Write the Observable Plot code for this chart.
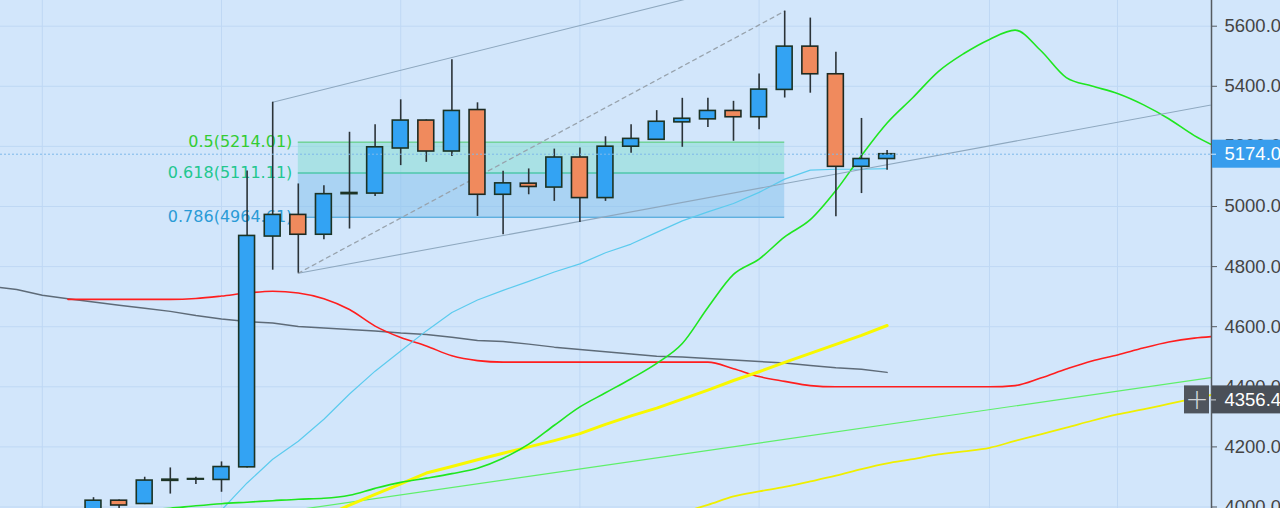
<!DOCTYPE html>
<html><head><meta charset="utf-8">
<script src="https://cdn.jsdelivr.net/npm/d3@7"></script>
<script src="https://cdn.jsdelivr.net/npm/@observablehq/plot@0.6"></script>
<style>html,body{margin:0;padding:0;background:#d2e6fb;overflow:hidden}#chart svg{display:block}</style>
</head><body><div id="chart"></div>
<script>
// ---- candles (weekly), index 0..31
const candleOpen  = [3985,4021,4010,4087,4091,4090,4132,4900,4972,4906,5041,5043,5193,5286,5183,5321,5039,5076,5063,5163,5028,5199,5222,5280,5290,5318,5297,5388,5532,5440,5132,5158];
const candleHigh  = [4031,4023,4099,4130,4099,4150,5118,5347,5075,5069,5247,5272,5355,5288,5488,5345,5117,5125,5191,5195,5232,5272,5319,5360,5360,5350,5441,5650,5627,5513,5293,5186];
const candleLow   = [3975,3985,4008,4043,4075,4049,4130,4788,4778,4889,4925,5033,5136,5147,5166,4967,4906,5039,5017,4947,5017,5177,5222,5197,5263,5217,5255,5361,5377,4966,5043,5121];
const candleClose = [4021,4005,4088,4091,4093,4133,4902,4972,4906,5041,5045,5197,5286,5183,5318,5039,5077,5065,5163,5028,5199,5225,5282,5292,5318,5297,5389,5532,5440,5132,5158,5174];

// ---- indicator lines: first index + values
const greyStart = -4;
const greyVals = [4734,4724,4705,4693,4682,4671,4661,4651,4637,4626,4617,4612,4601,4596,4591,4586,4579,4574,4565,4554,4551,4542,4532,4524,4517,4509,4502,4499,4494,4489,4484,4479,4471,4463,4458,4448];
const redStart = -1;
const redVals = [4691,4691,4691,4691,4691,4694,4702,4712,4718,4712,4693,4657,4602,4564,4536,4503,4487,4482,4482,4482,4482,4482,4482,4482,4482,4482,4460,4434,4418,4404,4400,4400,4400,4400,4400,4400,4400,4404,4429,4459,4486,4506,4529,4549,4562,4569];
const cyanStart = 5;
const cyanVals = [3990,4080,4159,4219,4292,4376,4452,4519,4586,4647,4689,4721,4751,4782,4809,4846,4875,4914,4952,4982,5010,5047,5091,5121,5124,5124,5126];
const greenStart = 2;
const greenVals = [3990,3996,4004,4011,4016,4021,4026,4029,4039,4062,4082,4096,4111,4129,4162,4209,4272,4333,4380,4427,4478,4544,4664,4774,4825,4899,4956,5053,5170,5278,5362,5449,5509,5556,5587,5519,5429,5401,5376,5339,5292,5236,5193];
const yellowStart = 9;
const yellowVals = [3969,4006,4042,4077,4113,4135,4157,4179,4200,4221,4244,4275,4303,4329,4359,4389,4421,4450,4481,4511,4541,4571,4604];
const yellow2Start = 23;
const yellow2Vals = [3982,4007,4035,4052,4067,4085,4104,4126,4145,4159,4175,4185,4197,4220,4242,4264,4287,4308,4325,4343,4361,4379];
const lightGreenPts = [[8,3991],[44,4435]];

// ---- drawings
const upperChannel = [[7,5347],[23.7,5702]];
const lowerChannel = [[8,4778],[44,5343]];
const fibTrend = [[8,4778],[27,5650]];
const fibRatios = ["0.5","0.618","0.786"];
const fibLevels = [5214.01,5111.11,4964.61];
const fibRange = [8,27];

// ---- axis
const yTicks = [4000,4200,4400,4600,4800,5000,5200,5400,5600];
const gridIdx = [-2,5,12,19,26,35,40];
const lastPrice = 5174.0;
const crossPrice = 4356.4;

const candles = candleOpen.map((o,i)=>({i,o,h:candleHigh[i],l:candleLow[i],c:candleClose[i]}));
const up = candles.filter(d=>d.c>=d.o), down = candles.filter(d=>d.c<d.o);
const series = (s,vals)=>vals.map((v,k)=>({i:s+k,v}));

const X0 = -3.633, X1 = 43.672;
const pxX = 25.6, pxY = 0.3005; // pixel per unit, used only for label box sizes
const half = 14/pxY;
const axisFont = 18.5, axisFamily = "Liberation Sans";

const lineOpts = (stroke, w)=>({x:"i", y:"v", stroke, strokeWidth:w, curve:"monotone-x", clip:true});

const chart = Plot.plot({
  width:1280, height:508,
  marginLeft:0, marginRight:69, marginTop:0, marginBottom:0,
  style:{background:"#d2e6fb", fontFamily:"DejaVu Sans", fontSize:"16px"},
  x:{domain:[X0,X1], axis:null},
  y:{domain:[3995,5685.5], axis:null},
  marks:[
    Plot.ruleY(yTicks, {stroke:"#bfd8f4", strokeWidth:1}),
    Plot.ruleX(gridIdx, {stroke:"#bfd8f4", strokeWidth:1}),
    // fib zones
    Plot.rect([0], {x1:fibRange[0], x2:fibRange[1], y1:fibLevels[1], y2:fibLevels[0], fill:"#86ddd3", fillOpacity:0.55}),
    Plot.rect([0], {x1:fibRange[0], x2:fibRange[1], y1:fibLevels[2], y2:fibLevels[1], fill:"#88c2ec", fillOpacity:0.55}),
    Plot.ruleY([fibLevels[0]], {x1:fibRange[0], x2:fibRange[1], stroke:"#74d39a", strokeWidth:1.5}),
    Plot.ruleY([fibLevels[1]], {x1:fibRange[0], x2:fibRange[1], stroke:"#4cc8a8", strokeWidth:1.5}),
    Plot.ruleY([fibLevels[2]], {x1:fibRange[0], x2:fibRange[1], stroke:"#5fb0df", strokeWidth:1.5}),
    Plot.text([0], {x:fibRange[0], y:fibLevels[0], text:()=>`${fibRatios[0]}(${fibLevels[0].toFixed(2)})`, textAnchor:"end", dx:-6, fill:"#33cc33", fontSize:16}),
    Plot.text([0], {x:fibRange[0], y:fibLevels[1], text:()=>`${fibRatios[1]}(${fibLevels[1].toFixed(2)})`, textAnchor:"end", dx:-6, fill:"#22c78f", fontSize:16}),
    Plot.text([0], {x:fibRange[0], y:fibLevels[2], text:()=>`${fibRatios[2]}(${fibLevels[2].toFixed(2)})`, textAnchor:"end", dx:-6, fill:"#2a9bd6", fontSize:16}),
    // indicators
    Plot.line([lightGreenPts[0], lightGreenPts[1]].map(([i,v])=>({i,v})), {x:"i", y:"v", stroke:"#5fef6a", strokeWidth:1.2, clip:true}),
    Plot.line(series(yellow2Start, yellow2Vals), lineOpts("#efef00", 1.8)),
    Plot.line(series(greyStart, greyVals), {...lineOpts("#5e6b78", 1.5), curve:"linear"}),
    Plot.line(series(redStart, redVals), lineOpts("#ff1e1e", 1.6)),
    Plot.line(series(yellowStart, yellowVals), {...lineOpts("#f8f800", 3), curve:"linear"}),
    Plot.line(series(cyanStart, cyanVals), {...lineOpts("#5ccbee", 1.2), curve:"linear"}),
    Plot.line(series(greenStart, greenVals), lineOpts("#1fe61f", 1.6)),
    // channel + fib trend
    Plot.line(upperChannel.map(([i,v])=>({i,v})), {x:"i", y:"v", stroke:"#8ea8bf", strokeWidth:1.1, clip:true}),
    Plot.line(lowerChannel.map(([i,v])=>({i,v})), {x:"i", y:"v", stroke:"#8ea8bf", strokeWidth:1.1, clip:true}),
    Plot.line(fibTrend.map(([i,v])=>({i,v})), {x:"i", y:"v", stroke:"#98a3ad", strokeWidth:1.3, strokeDasharray:"4,4", clip:true}),
    // candles
    Plot.ruleX(candles, {x:"i", y1:"l", y2:"h", stroke:"#2b3338", strokeWidth:1.6, clip:true}),
    Plot.rect(up, {x1:d=>d.i-0.31, x2:d=>d.i+0.31, y1:"o", y2:"c", fill:"#33a3f3", stroke:"#1c3324", strokeWidth:1.6, clip:true}),
    Plot.rect(down, {x1:d=>d.i-0.31, x2:d=>d.i+0.31, y1:"o", y2:"c", fill:"#f08a5d", stroke:"#1c2a22", strokeWidth:1.6, clip:true}),
    // last price line
    Plot.ruleY([lastPrice], {stroke:"#7db8ea", strokeWidth:1, strokeDasharray:"2,2"}),
    // right axis
    Plot.ruleX([X1], {stroke:"#555b61", strokeWidth:1.5}),
    Plot.axisY(yTicks, {anchor:"right", tickSize:5, tickPadding:8, tickFormat:d=>d.toFixed(2), stroke:"#555b61", fill:"#444", fontSize:axisFont, fontFamily:axisFamily}),
    // price labels
    Plot.rect([lastPrice], {x1:X1+1/pxX, x2:X1+3, y1:d=>d-half, y2:d=>d+half, fill:"#389ded"}),
    Plot.ruleY([lastPrice], {x1:X1, x2:X1+5/pxX, stroke:"#d8ecff"}),
    Plot.text([lastPrice], {x:X1, y:d=>d, text:d=>d.toFixed(2), dx:13, textAnchor:"start", fill:"white", fontSize:axisFont, fontFamily:axisFamily}),
    Plot.rect([crossPrice], {x1:X1+1/pxX, x2:X1+3, y1:d=>d-half, y2:d=>d+half, fill:"#4a5058"}),
    Plot.rect([crossPrice], {x1:X1-27/pxX, x2:X1-2/pxX, y1:d=>d-half, y2:d=>d+half, fill:"#4f555d"}),
    Plot.ruleY([crossPrice], {x1:X1, x2:X1+5/pxX, stroke:"#cfd3d8"}),
    Plot.text([crossPrice], {x:X1, y:d=>d, text:d=>d.toFixed(2), dx:13, textAnchor:"start", fill:"white", fontSize:axisFont, fontFamily:axisFamily}),
    Plot.text([crossPrice], {x:X1-14.5/pxX, y:d=>d, text:()=>"+", fill:"#d0d4d8", fontSize:28, fontWeight:200})
  ]
});
document.getElementById("chart").appendChild(chart);
</script>
</body></html>
